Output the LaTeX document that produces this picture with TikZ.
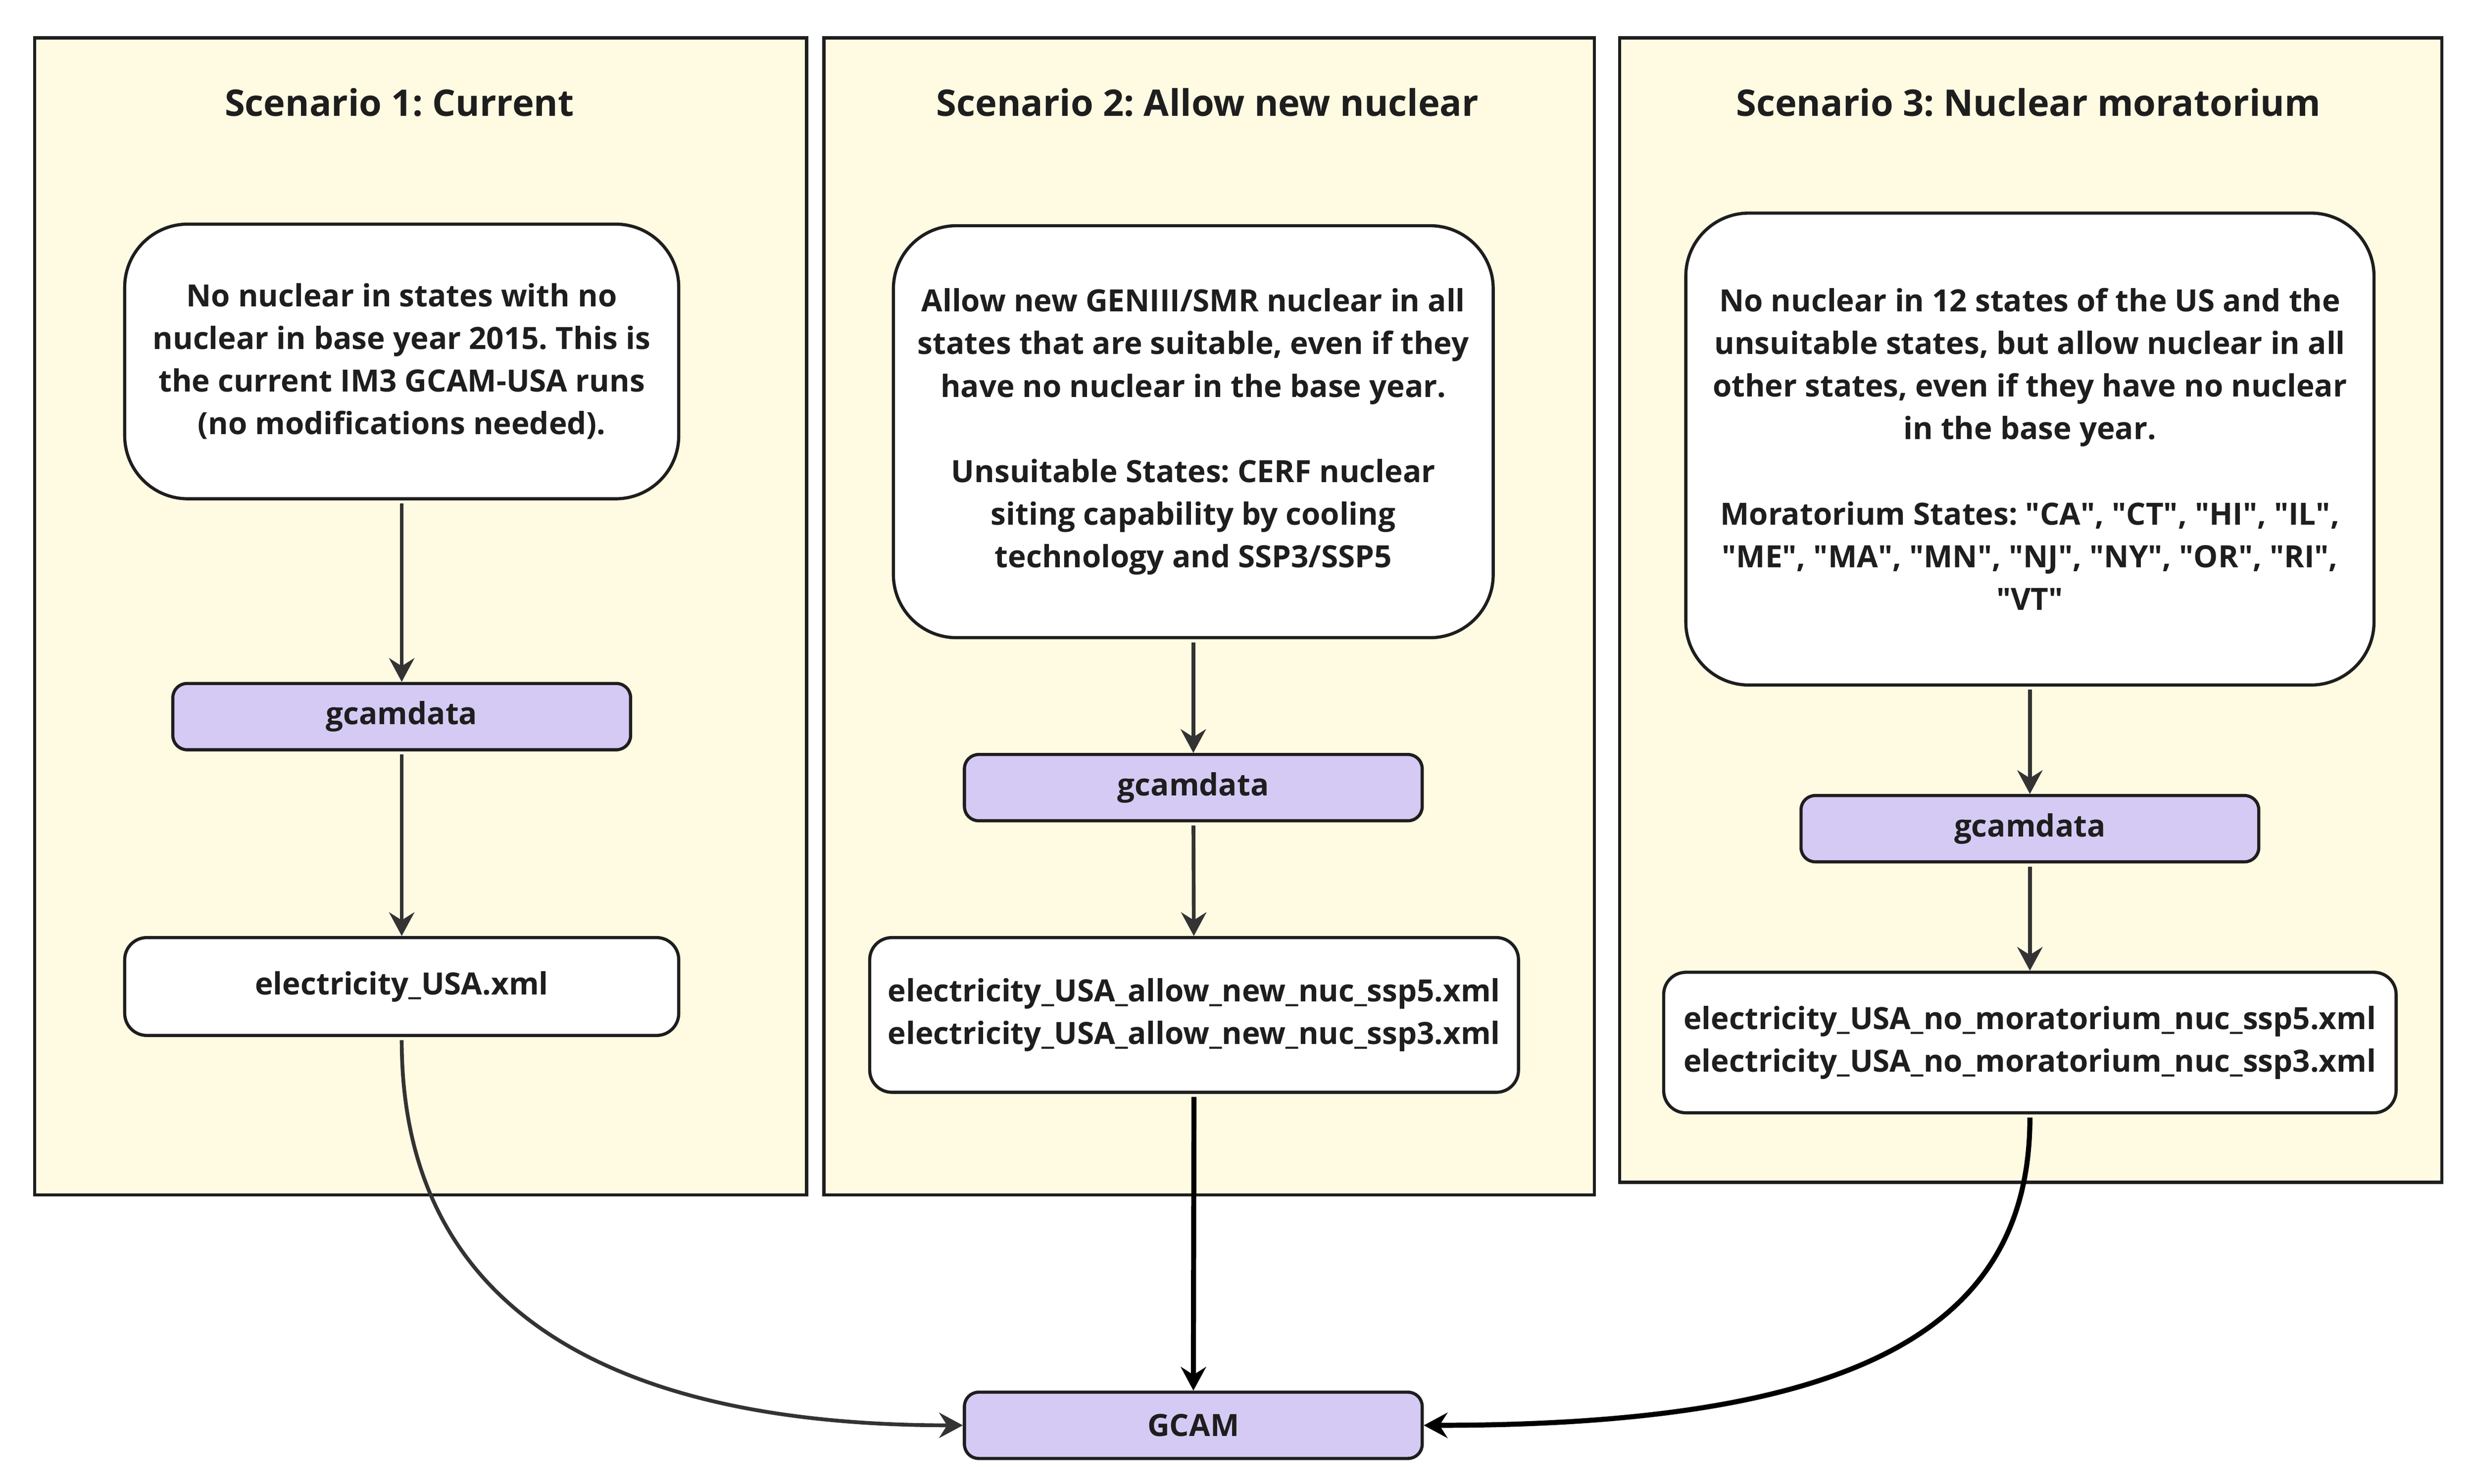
\documentclass[tikz,border=0pt]{standalone}
\usepackage{fontspec}
\setmainfont{Open Sans}
\usetikzlibrary{arrows.meta}
\frenchspacing

\definecolor{panelfill}{HTML}{FFFBE2}
\definecolor{procfill}{HTML}{D5CAF4}
\definecolor{edgegray}{HTML}{333333}
\definecolor{linedark}{HTML}{1E1E1E}

\tikzset{
  panel/.style={draw=linedark, line width=1pt, fill=panelfill},
  title/.style={inner sep=0.75pt, text=linedark, font=\fontsize{11.6}{14}\selectfont\bfseries},
  note/.style={draw=linedark, line width=1pt, fill=white, rounded corners=20pt, align=center, inner sep=0pt, text=linedark, font=\fontsize{9.7}{13.5}\selectfont\bfseries},
  proc/.style={draw=linedark, line width=1pt, fill=procfill, rounded corners=4.5pt, minimum width=145pt, minimum height=21pt, inner sep=0pt, text=linedark, font=\fontsize{9.7}{13.5}\selectfont\bfseries},
  xmlfile/.style={draw=linedark, line width=1pt, fill=white, rounded corners=7pt, align=center, inner sep=0pt, text=linedark, font=\fontsize{9.7}{13.5}\selectfont\bfseries},
  flow/.style={draw=edgegray, line width=1.2pt, -{Stealth[length=7.5pt,width=8pt,inset=2.5pt]}, shorten <=1pt},
  flowdark/.style={flow, draw=black, line width=1.6pt}
}

\begin{document}
\begin{tikzpicture}[x=0.5pt,y=0.5pt,yscale=-1,xscale=1]

\useasboundingbox (0,0) rectangle (1568,940);

%Shape: Rectangle [panel 1]
\draw[panel] (22,24) rectangle (511,757);
%Shape: Rectangle [panel 2]
\draw[panel] (522,24) rectangle (1010,757);
%Shape: Rectangle [panel 3]
\draw[panel] (1026,24) rectangle (1547,749);

% Text Node
\node[title] (title1) at (253,65) {Scenario 1: Current};
% Text Node
\node[title] (title2) at (765,65) {Scenario 2: Allow new nuclear};
% Text Node
\node[title] (title3) at (1285,65) {Scenario 3: Nuclear moratorium};

%Scenario 1
\node[note, minimum width=175.5pt, minimum height=87pt] (note1) at (254.5,229)
  {No nuclear in states with no\\nuclear in base year 2015. This is\\the current IM3 GCAM-USA runs\\(no modifications needed).};
\node[proc] (data1) at (254.5,454) {gcamdata};
\node[xmlfile, minimum width=175.5pt, minimum height=31pt] (xml1) at (254.5,625) {electricity\_USA.xml};

%Scenario 2
\node[note, minimum width=190pt, minimum height=130.5pt] (note2) at (756,273.5)
  {Allow new GENIII/SMR nuclear in all\\states that are suitable, even if they\\have no nuclear in the base year.\\[13.5pt]Unsuitable States: CERF nuclear\\siting capability by cooling\\technology and SSP3/SSP5};
\node[proc] (data2) at (756,499) {gcamdata};
\node[xmlfile, minimum width=205.5pt, minimum height=49pt] (xml2) at (756.5,643)
  {electricity\_USA\_allow\_new\_nuc\_ssp5.xml\\electricity\_USA\_allow\_new\_nuc\_ssp3.xml};

%Scenario 3
\node[note, minimum width=218pt, minimum height=149.5pt] (note3) at (1286,284.5)
  {No nuclear in 12 states of the US and the\\unsuitable states, but allow nuclear in all\\other states, even if they have no nuclear\\in the base year.\\[13.5pt]Moratorium States: \textquotedbl CA\textquotedbl, \textquotedbl CT\textquotedbl, \textquotedbl HI\textquotedbl, \textquotedbl IL\textquotedbl,\\\textquotedbl ME\textquotedbl, \textquotedbl MA\textquotedbl, \textquotedbl MN\textquotedbl, \textquotedbl NJ\textquotedbl, \textquotedbl NY\textquotedbl, \textquotedbl OR\textquotedbl, \textquotedbl RI\textquotedbl,\\\textquotedbl VT\textquotedbl};
\node[proc] (data3) at (1286,525) {gcamdata};
\node[xmlfile, minimum width=232pt, minimum height=44.5pt] (xml3) at (1286,660.5)
  {electricity\_USA\_no\_moratorium\_nuc\_ssp5.xml\\electricity\_USA\_no\_moratorium\_nuc\_ssp3.xml};

%GCAM
\node[proc] (gcam) at (756,903) {GCAM};

%Straight Lines
\draw[flow] (note1) -- (data1);
\draw[flow] (data1) -- (xml1);
\draw[flow] (note2) -- (data2);
\draw[flow] (data2) -- (xml2);
\draw[flow] (note3) -- (data3);
\draw[flow] (data3) -- (xml3);
\draw[flowdark] (xml2) -- (gcam);

%Curve Lines
\draw[flow] (xml1.south) .. controls (254.5,850) and (420,903) .. (gcam.west);
\draw[flowdark] (xml3.south) .. controls (1286,840) and (1180,903) .. (gcam.east);

\end{tikzpicture}
\end{document}
